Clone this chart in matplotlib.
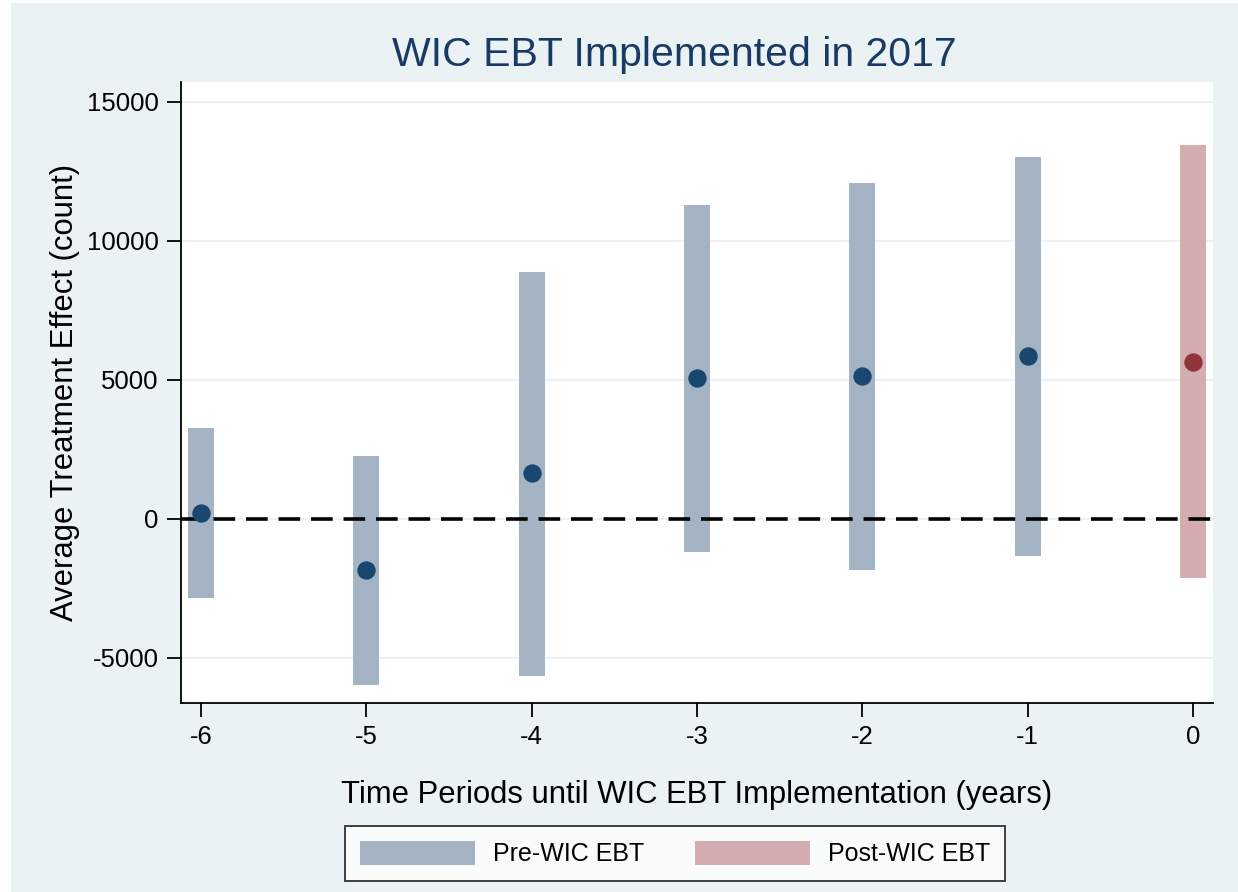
import matplotlib.pyplot as plt
from matplotlib.patches import Rectangle, Patch

plt.rcParams['font.family'] = ['Liberation Sans', 'DejaVu Sans']

# event-study estimates by year relative to WIC EBT rollout
periods = [-6, -5, -4, -3, -2, -1, 0]
estimates = [216, -1835, 1655, 5072, 5144, 5863, 5647]
ci_low = [-2842, -5971, -5647, -1187, -1835, -1331, -2122]
ci_high = [3273, 2266, 8885, 11295, 12086, 13022, 13453]
post = [False, False, False, False, False, False, True]

BG = '#EAF2F3'
PRE_BAR, POST_BAR = '#A4B4C4', '#D4ADB1'
PRE_DOT, POST_DOT = '#1A476F', '#90353B'

fig = plt.figure(figsize=(12.38, 8.92), dpi=100, facecolor='white')
fig.patches.append(Rectangle((11 / 1238, 0), 1 - 11 / 1238, 1 - 3 / 892,
                             transform=fig.transFigure, facecolor=BG,
                             edgecolor='none', zorder=-10))

ax = fig.add_axes([181 / 1238, 1 - 703 / 892, (1213 - 181) / 1238, (703 - 82) / 892])
ax.set_facecolor('white')

for y in [-5000, 0, 5000, 10000, 15000]:
    ax.axhline(y, color=BG, lw=1.5, zorder=0)

for x, lo, hi, p in zip(periods, ci_low, ci_high, post):
    ax.bar(x, hi - lo, bottom=lo, width=0.157,
           color=POST_BAR if p else PRE_BAR, zorder=2)

ax.axhline(0, color='black', lw=2.6, dashes=(6, 3), zorder=3)

for x, est, p in zip(periods, estimates, post):
    ax.scatter(x, est, s=175, color=POST_DOT if p else PRE_DOT,
               zorder=4, linewidths=0)

ax.set_xlim(-6.121, 0.121)
ax.set_ylim(-6619, 15719)
ax.set_xticks(periods)
ax.set_xticklabels([str(p) for p in periods])
ax.set_yticks([-5000, 0, 5000, 10000, 15000])
ax.set_yticklabels(['-5000', '0', '5000', '10000', '15000'])
ax.tick_params(axis='both', direction='out', length=10, width=1.3,
               labelsize=18.5, colors='black', pad=6)

for side in ['top', 'right']:
    ax.spines[side].set_visible(False)
for side in ['left', 'bottom']:
    ax.spines[side].set_linewidth(1.3)

ax.set_xlabel('Time Periods until WIC EBT Implementation (years)',
              fontsize=22.3, labelpad=22)
ax.set_ylabel('Average Treatment Effect (count)', fontsize=22.3, labelpad=5)
fig.text(674 / 1238, 1 - 55 / 892, 'WIC EBT Implemented in 2017',
         fontsize=29.5, color='#1A3A66', ha='center', va='center')

handles = [Patch(facecolor=PRE_BAR, label='Pre-WIC EBT'),
           Patch(facecolor=POST_BAR, label='Post-WIC EBT')]
leg = fig.legend(handles=handles, loc='center', ncol=2,
                 bbox_to_anchor=(675 / 1238, 1 - 853.5 / 892),
                 fontsize=18, frameon=True, fancybox=False, edgecolor='black',
                 handlelength=4.6, handleheight=1.1, columnspacing=2.0,
                 handletextpad=0.72, borderpad=0.6)
leg.get_frame().set_linewidth(1.3)

fig.savefig('out.png', dpi=100, facecolor=fig.get_facecolor())
